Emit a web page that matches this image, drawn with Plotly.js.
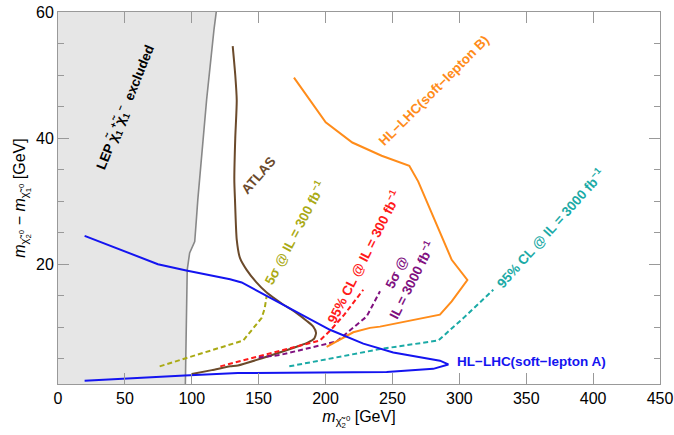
<!DOCTYPE html>
<html>
<head>
<meta charset="utf-8">
<script src="https://cdn.plot.ly/plotly-3.0.1.min.js"></script>
<style>html,body{margin:0;padding:0;background:#fff;}#plot{width:674px;height:435px;}</style>
</head>
<body>
<div id="plot"></div>
<script>
// LEP exclusion boundary
const lepX = [118.3, 116.6, 111.1, 106.1, 104.5, 103.4, 102.2, 98.4, 96.6, 95.2];
const lepY = [60, 57.2, 46.1, 35, 30.2, 27, 23.6, 21.8, 19.1, 1];
// ATLAS
const atlasX = [130.6, 132.5, 133.6, 132.5, 131.8, 132.3, 133.6, 136, 141, 148, 156, 167, 178.4, 186, 190.8, 192.9, 191.5, 187, 181, 160, 134.5, 128.6, 115, 100];
const atlasY = [54.6, 50, 46, 40, 33.4, 30.2, 23.9, 21, 19.1, 17.2, 15.5, 13.8, 12.25, 11, 10.1, 9.1, 8.2, 7.6, 7.1, 5.6, 3.95, 3.8, 3.2, 2.6];
// HL-LHC soft-lepton A
const slAX = [19.9, 74.7, 95.9, 128.6, 137.3, 173.4, 203.3, 228.2, 250.6, 285.5, 291.8, 280.5, 245.7, 134.5, 94.7, 19.9];
const slAY = [24.5, 20.0, 19.0, 17.6, 17.1, 13.0, 9.6, 7.4, 6.0, 4.7, 4.1, 3.4, 2.9, 2.74, 2.36, 1.5];
// HL-LHC soft-lepton B
const slBX = [200.8, 213.3, 220.7, 233.2, 240.7, 285.5, 294.3, 306, 294.3, 269.3, 262.6, 241.9, 220, 200.1, 176.4];
const slBY = [6.9, 8.3, 9.2, 9.9, 10.1, 12.0, 14.1, 17.5, 20.7, 33.1, 35.6, 37.2, 39.3, 42.5, 49.6];
// 5 sigma @ 300 fb^-1
const s300X = [76, 134.5, 138.5, 152.3, 154.5, 156];
const s300Y = [3.8, 7.6, 7.9, 11.5, 13, 15];
// 95% CL @ 300 fb^-1
const c300X = [121.3, 195.8, 204, 214, 228.2];
const c300Y = [3.8, 7.9, 9.6, 12, 15.95];
// 5 sigma @ 3000 fb^-1
const s3000X = [150, 165.9, 208.3, 230.7, 240.7];
const s3000Y = [5.2, 5.6, 7.75, 11.7, 15.7];
// 95% CL @ 3000 fb^-1
const c3000X = [172.9, 240.7, 284.3, 303, 325.4];
const c3000Y = [3.8, 6.54, 7.9, 11.45, 15.95];

const BLUE = '#1414f0', ORANGE = '#ff8c1a', BROWN = '#6b4a2b', OLIVE = '#aaaa14',
      RED = '#ff1a1a', PURPLE = '#80107f', TEAL = '#1aaaa6';
const dashed = '5px,3px';

const traces = [
  {x: lepX, y: lepY, mode: 'lines', fill: 'tozerox', fillcolor: '#e6e6e6', line: {color: '#888888', width: 1.6}},
  {x: atlasX, y: atlasY, mode: 'lines', line: {color: BROWN, width: 2, shape: 'spline', smoothing: 0.6}},
  {x: s300X, y: s300Y, mode: 'lines', line: {color: OLIVE, width: 2, dash: dashed}},
  {x: c300X, y: c300Y, mode: 'lines', line: {color: RED, width: 2, dash: dashed}},
  {x: s3000X, y: s3000Y, mode: 'lines', line: {color: PURPLE, width: 2, dash: dashed}},
  {x: c3000X, y: c3000Y, mode: 'lines', line: {color: TEAL, width: 2, dash: dashed}},
  {x: slBX, y: slBY, mode: 'lines', line: {color: ORANGE, width: 2}},
  {x: slAX, y: slAY, mode: 'lines', line: {color: BLUE, width: 2}}
];

const fam = 'Liberation Sans, Arial, sans-serif';
function ann(x, y, text, color, angle, size) {
  return {x: x, y: y, xref: 'x', yref: 'y', text: text, showarrow: false, textangle: angle,
          font: {family: fam, size: size || 13.5, color: color, weight: 'bold'}};
}
const annotations = [
  ann(50, 45, 'LEP χ̃<sub>1</sub><sup>+</sup>χ̃<sub>1</sub><sup>−</sup>  excluded', '#000', -68, 13.5),
  ann(150, 34, 'ATLAS', BROWN, -49, 13.5),
  ann(176.4, 25.0, '5σ @ IL = 300 fb<sup>−1</sup>', OLIVE, -62, 13.5),
  ann(228, 21.2, '95% CL @ IL = 300 fb<sup>−1</sup>', RED, -63, 13.5),
  ann(259.4, 18.0, '5σ @<br>IL = 3000 fb<sup>−1</sup>', PURPLE, -63, 13.5),
  ann(367.8, 25.8, '95% CL @ IL = 3000 fb<sup>−1</sup>', TEAL, -48, 13.5),
  ann(281, 47.6, 'HL−LHC(soft−lepton B)', ORANGE, -45, 13.5),
  ann(354.3, 4.5, 'HL−LHC(soft−lepton A)', BLUE, 0, 13.5)
];

const layout = {
  width: 674, height: 435,
  margin: {l: 58, r: 14, t: 12, b: 51},
  paper_bgcolor: '#fff', plot_bgcolor: '#fff',
  showlegend: false,
  font: {family: fam, size: 16, color: '#000'},
  xaxis: {
    range: [0, 450], dtick: 50, tick0: 0,
    ticks: 'inside', ticklen: 11, tickcolor: '#999', tickwidth: 1,
    showline: true, linecolor: '#999', linewidth: 1, mirror: 'ticks',
    showgrid: false, zeroline: false,
    tickfont: {size: 16},
    title: {text: '<i>m</i><sub>χ̃<sub>2</sub><sup>0</sup></sub> [GeV]', font: {size: 16}, standoff: 4}
  },
  yaxis: {
    range: [1, 60], tickvals: [20, 40, 60],
    ticks: 'inside', ticklen: 11, tickcolor: '#999', tickwidth: 1,
    minor: {dtick: 5, tick0: 0, ticks: 'inside', ticklen: 6, tickcolor: '#999', showgrid: false},
    showline: true, linecolor: '#999', linewidth: 1, mirror: 'ticks',
    showgrid: false, zeroline: false,
    tickfont: {size: 16},
    title: {text: '<i>m</i><sub>χ̃<sub>2</sub><sup>0</sup></sub> − <i>m</i><sub>χ̃<sub>1</sub><sup>0</sup></sub> [GeV]', font: {size: 16}, standoff: 6}
  },
  annotations: annotations
};

Plotly.newPlot('plot', traces, layout, {displayModeBar: false, staticPlot: true});
</script>
</body>
</html>
